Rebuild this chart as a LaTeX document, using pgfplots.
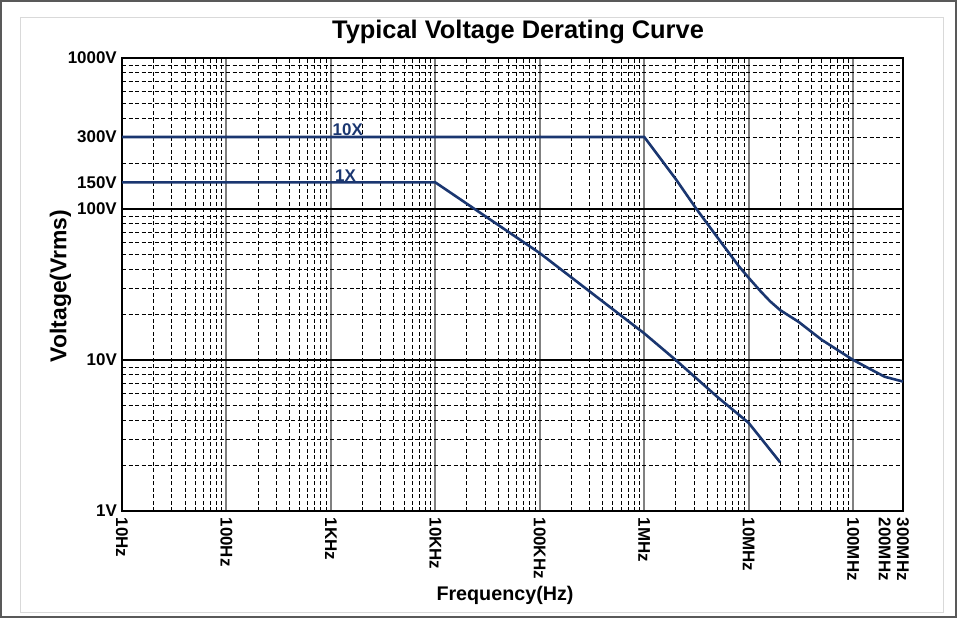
\documentclass[border=0pt]{standalone}
\usepackage{pgfplots}
\pgfplotsset{compat=1.18}
\usepackage{fontspec}
\setmainfont{Liberation Sans}
\definecolor{navy}{RGB}{26,54,112}
\begin{document}
\begin{tikzpicture}[x=1bp,y=1bp]
\useasboundingbox (0,0) rectangle (957,-618);
\draw[line width=2bp, black!65] (1,-1) rectangle (956,-617);
\draw[line width=0.8bp, black!15] (20,-17) rectangle (943,-612);
\node[font=\fontsize{25.5}{30}\selectfont\bfseries] at (518,-31.5) {Typical Voltage Derating Curve};
\node[font=\fontsize{23}{27}\selectfont\bfseries, rotate=90] at (60.5,-286) {Voltage(Vrms)};
\node[font=\fontsize{19.8}{24}\selectfont\bfseries] at (505,-595) {Frequency(Hz)};
\begin{loglogaxis}[
  at={(122bp,-511bp)}, anchor=south west,
  scale only axis, width=781bp, height=453bp,
  xmin=10, xmax=3e8, ymin=1, ymax=1000,
  axis line style={line width=1.8bp, black},
  major tick length=0pt, minor tick length=0pt,
  xtick={10,100,1000,10000,100000,1000000,10000000,100000000},
  xticklabels={10Hz,100Hz,1KHz,10KHz,100KHz,1MHz,10MHz,100MHz},
  extra x ticks={2e8,3e8},
  extra x tick labels={200MHz,300MHz},
  extra x tick style={grid=none},
  ytick={1,10,100,1000},
  yticklabels={1V,10V,100V,1000V},
  extra y ticks={150,300},
  extra y tick labels={150V,300V},
  extra y tick style={grid=none},
  xticklabel shift=5bp,
  yticklabel shift=5bp,
  xticklabel style={font=\fontsize{17}{20}\selectfont\bfseries, rotate=-90, anchor=west, inner sep=0pt, xshift=1.5bp},
  yticklabel style={font=\fontsize{17}{20}\selectfont\bfseries, anchor=east, inner sep=0pt},
  grid=both,
  minor grid style={black, line width=0.7bp, dash pattern=on 4bp off 2.5bp},
  major x grid style={black!50, line width=2bp, solid},
  major y grid style={black, line width=1.6bp, solid},
  clip=false,
]
\addplot[navy, line width=2.6bp] coordinates {
 (10,300) (1e6,300) (2e6,158) (3.16e6,100) (5e6,65) (8e6,42) (1e7,35) (1.3e7,28.5) (1.6e7,24.5) (2e7,21.4) (3e7,17.9) (5e7,13.6) (1e8,10) (2e8,7.75) (3e8,7.2)
};
\addplot[navy, line width=2.6bp] coordinates {
 (10,150) (1e4,150) (1e5,51) (1e6,15) (2e6,10) (5e6,5.7) (1e7,3.83) (2e7,2.1)
};
\node[font=\fontsize{17}{20}\selectfont\bfseries, text=navy, anchor=south, inner sep=1bp] at (axis cs:1.45e3,300) {10X};
\node[font=\fontsize{17}{20}\selectfont\bfseries, text=navy, anchor=south, inner sep=1bp] at (axis cs:1.38e3,150) {1X};
\end{loglogaxis}
\end{tikzpicture}
\end{document}
